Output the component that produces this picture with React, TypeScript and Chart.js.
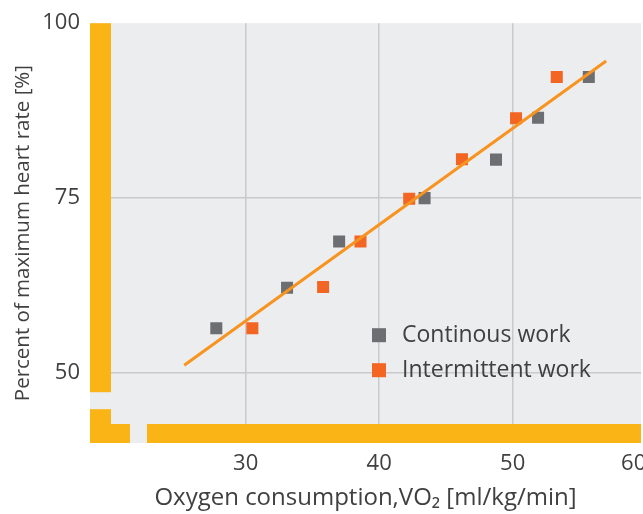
import React, { useEffect, useRef } from 'react';
import { Chart, registerables } from 'chart.js';

Chart.register(...registerables);

// ---- data ----
const continuousX = [27.8, 33.1, 37.0, 43.4, 48.75, 51.9, 55.7];
const continuousY = [56.4, 62.2, 68.8, 75.0, 80.5, 86.5, 92.3];
const intermittentX = [30.5, 35.8, 38.6, 42.25, 46.2, 50.25, 53.3];
const intermittentY = [56.4, 62.3, 68.8, 74.9, 80.55, 86.4, 92.3];
const fitX = [25.4, 57.0];
const fitY = [51.1, 94.6];
const xTickValues = [30, 40, 50, 60];
const yTickValues = [50, 75, 100];
const xGridValues = [30, 40, 50];
const yGridValues = [50, 75];
const seriesLabels = ['Continous work', 'Intermittent work'];
const xTitle = 'Oxygen consumption,VO₂ [ml/kg/min]';
const yTitle = 'Percent of maximum heart rate [%]';
const xRange = [18.34, 59.61];
const yRange = [40, 100];

const FONT = '"Open Sans", "Noto Sans", sans-serif';
const TEXT = '#404042';
const GRAY = '#6d6e71';
const ORANGE = '#f26522';
const LINE = '#f7931e';
const YELLOW = '#fbb415';

const toPoints = (xs: number[], ys: number[]) => xs.map((x, i) => ({ x, y: ys[i] }));

const backgroundPlugin = {
  id: 'plotBackground',
  beforeDraw(chart: any) {
    const { ctx, chartArea: a } = chart;
    ctx.save();
    ctx.fillStyle = '#ecedef';
    ctx.fillRect(a.left, a.top, a.right - a.left, a.bottom - a.top);
    ctx.restore();
  },
};

const axisBarsPlugin = {
  id: 'axisBars',
  beforeDatasetsDraw(chart: any) {
    const { ctx, chartArea: a } = chart;
    ctx.save();
    ctx.fillStyle = YELLOW;
    const w = 21;
    const h = 19;
    ctx.fillRect(a.left, a.top, w, 369);
    ctx.fillRect(a.left, a.top + 386, w, a.bottom - (a.top + 386));
    ctx.fillRect(a.left, a.bottom - h, 40, h);
    ctx.fillRect(a.left + 57, a.bottom - h, a.right - (a.left + 57), h);
    ctx.restore();
  },
};

const insideLegendPlugin = {
  id: 'insideLegend',
  afterDraw(chart: any) {
    const { ctx, chartArea: a } = chart;
    const colors = [GRAY, ORANGE];
    ctx.save();
    ctx.font = `23px ${FONT}`;
    ctx.textBaseline = 'middle';
    ctx.textAlign = 'left';
    seriesLabels.forEach((label, i) => {
      const cy = a.top + 312 + i * 35;
      const x = a.left + 282;
      ctx.fillStyle = colors[i];
      ctx.fillRect(x, cy - 7, 14, 14);
      ctx.fillStyle = TEXT;
      ctx.fillText(label, x + 30, cy);
    });
    ctx.restore();
  },
};

export default function App() {
  const ref = useRef<HTMLCanvasElement>(null);

  useEffect(() => {
    if (!ref.current) return;
    const chart = new Chart(ref.current, {
      type: 'scatter',
      data: {
        datasets: [
          {
            label: 'fit',
            data: toPoints(fitX, fitY),
            showLine: true,
            borderColor: LINE,
            borderWidth: 3,
            pointRadius: 0,
            order: 0,
          } as any,
          {
            label: seriesLabels[0],
            data: toPoints(continuousX, continuousY),
            pointStyle: 'rect',
            pointRadius: 8.5,
            backgroundColor: GRAY,
            borderWidth: 0,
            order: 1,
          },
          {
            label: seriesLabels[1],
            data: toPoints(intermittentX, intermittentY),
            pointStyle: 'rect',
            pointRadius: 8.5,
            backgroundColor: ORANGE,
            borderWidth: 0,
            order: 2,
          },
        ],
      },
      options: {
        responsive: false,
        animation: false,
        devicePixelRatio: 1,
        layout: { autoPadding: false, padding: { top: 19, right: 2, left: 0, bottom: 0 } },
        plugins: { legend: { display: false }, tooltip: { enabled: false } },
        scales: {
          x: {
            type: 'linear',
            min: xRange[0],
            max: xRange[1],
            afterBuildTicks: (scale: any) => {
              scale.ticks = [{ value: xRange[0] }, ...xTickValues.map((v) => ({ value: v }))];
            },
            afterFit: (scale: any) => {
              scale.height = 71;
              scale.paddingLeft = 0;
              scale.paddingRight = 0;
            },
            border: { display: false },
            grid: {
              drawTicks: false,
              lineWidth: 1.5,
              color: (c: any) => (c.tick && xGridValues.includes(c.tick.value) ? '#c9cacc' : 'rgba(0,0,0,0)'),
            },
            ticks: {
              autoSkip: false,
              maxRotation: 0,
              align: 'inner',
              padding: 8,
              color: TEXT,
              font: { family: FONT, size: 22 },
              callback: (v: any) => (xTickValues.includes(Number(v)) ? String(v) : ''),
            },
            title: {
              display: true,
              text: xTitle,
              color: TEXT,
              font: { family: FONT, size: 24 },
              padding: { top: 0, bottom: 1 },
            },
          },
          y: {
            type: 'linear',
            min: yRange[0],
            max: yRange[1],
            afterBuildTicks: (scale: any) => {
              scale.ticks = yTickValues.map((v) => ({ value: v }));
            },
            afterFit: (scale: any) => {
              scale.width = 90;
            },
            border: { display: false },
            grid: {
              drawTicks: false,
              lineWidth: 1.5,
              color: (c: any) => (c.tick && yGridValues.includes(c.tick.value) ? '#c9cacc' : 'rgba(0,0,0,0)'),
            },
            ticks: {
              padding: 10,
              color: TEXT,
              font: { family: FONT, size: 22 },
            },
            title: {
              display: true,
              text: yTitle,
              color: TEXT,
              font: { family: FONT, size: 20.5 },
              padding: { top: 11, bottom: 0 },
            },
          },
        },
      } as any,
      plugins: [backgroundPlugin, axisBarsPlugin, insideLegendPlugin],
    });
    return () => chart.destroy();
  }, []);

  return (
    <div style={{ position: 'absolute', left: 0, top: 0, width: 643, height: 514, overflow: 'hidden', background: '#fff' }}>
      <canvas ref={ref} width={643} height={514} style={{ display: 'block' }} />
    </div>
  );
}
